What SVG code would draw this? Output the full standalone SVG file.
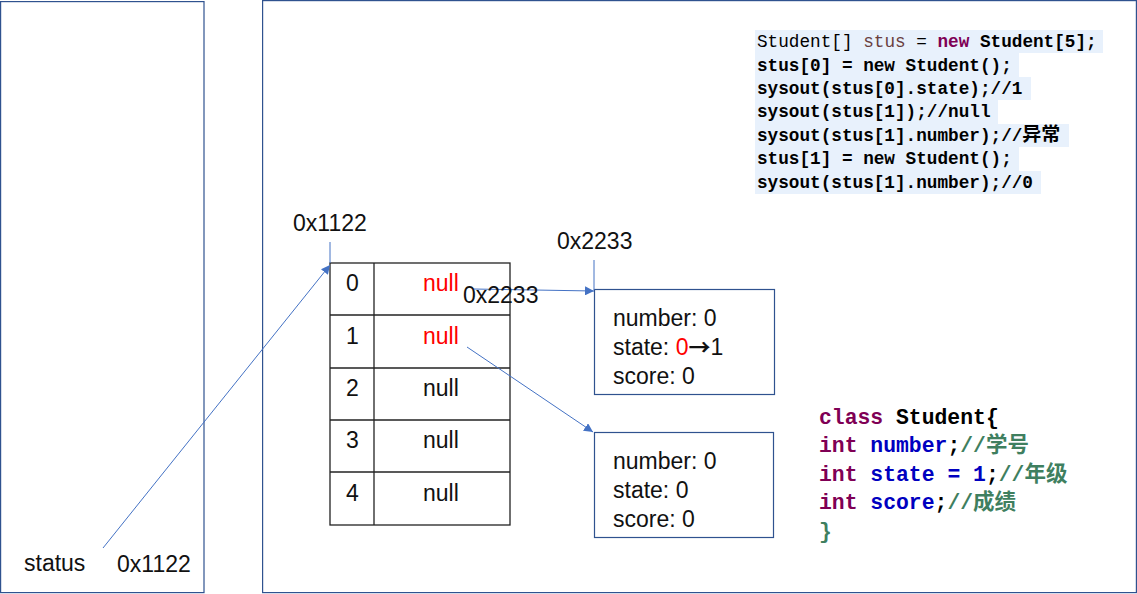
<svg xmlns="http://www.w3.org/2000/svg" width="1137" height="594" viewBox="0 0 1137 594">
<defs>
<style>
.frame{fill:#fff;stroke:#2F528F;stroke-width:1.2}
.cell{fill:none;stroke:#222;stroke-width:1.3}
.lbl{font-family:"Liberation Sans","Noto Sans",sans-serif;font-size:23px;fill:#111}
.red{fill:#FF0000}
.conn{stroke:#4472C4;stroke-width:1;fill:none}
.code{font-family:"Liberation Mono","DejaVu Sans Mono","Noto Sans CJK SC",monospace;font-size:17.7px;font-weight:bold;fill:#000}
.cls{font-family:"Liberation Mono","DejaVu Sans Mono","Noto Sans CJK SC",monospace;font-size:21.4px;font-weight:bold}
.kw{fill:#7F0055}
.fld{fill:#0000C0}
.cmt{fill:#3F7F5F}
.cjk{font-family:"Noto Sans CJK SC",sans-serif;font-size:21.5px}
.hl{fill:#E8F1FC}
.arr{font-family:"Noto Sans CJK SC",sans-serif;font-weight:bold;font-size:22px}
</style>
<marker id="ah" viewBox="0 0 10 10" refX="10" refY="5" markerWidth="9" markerHeight="9" markerUnits="userSpaceOnUse" orient="auto">
<path d="M0,0 L10,5 L0,10 z" fill="#4472C4"/>
</marker>
</defs>
<rect width="1137" height="594" fill="#fff"/>
<g id="stack">
<rect class="frame" x="0.6" y="1.6" width="203.4" height="591"/>
<text class="lbl" x="24" y="571">status</text>
<text class="lbl" x="117" y="572">0x1122</text>
</g>
<g id="heap">
<rect class="frame" x="262.6" y="0.6" width="873.8" height="592"/>
</g>
<g id="array">
<text class="lbl" x="293" y="231">0x1122</text>
<rect class="cell" x="330" y="263" width="180" height="262"/>
<line class="cell" x1="374" y1="263" x2="374" y2="525"/>
<line class="cell" x1="330" y1="315" x2="510" y2="315"/>
<line class="cell" x1="330" y1="368" x2="510" y2="368"/>
<line class="cell" x1="330" y1="420" x2="510" y2="420"/>
<line class="cell" x1="330" y1="472" x2="510" y2="472"/>
<text class="lbl" x="346" y="291">0</text>
<text class="lbl" x="346" y="344">1</text>
<text class="lbl" x="346" y="396">2</text>
<text class="lbl" x="346" y="448">3</text>
<text class="lbl" x="346" y="501">4</text>
<text class="lbl red" x="423" y="291">null</text>
<text class="lbl red" x="423" y="344">null</text>
<text class="lbl" x="423" y="396">null</text>
<text class="lbl" x="423" y="448">null</text>
<text class="lbl" x="423" y="501">null</text>
</g>
<g id="obj1">
<text class="lbl" x="557" y="249">0x2233</text>
<rect class="frame" x="594.5" y="289.5" width="180" height="105"/>
<text class="lbl" x="613" y="326">number: 0</text>
<text class="lbl" x="613" y="355">state: <tspan class="red">0</tspan><tspan class="arr">→</tspan>1</text>
<text class="lbl" x="613" y="384">score: 0</text>
</g>
<g id="obj2">
<rect class="frame" x="594.5" y="432.5" width="179" height="105"/>
<text class="lbl" x="613" y="469">number: 0</text>
<text class="lbl" x="613" y="498">state: 0</text>
<text class="lbl" x="613" y="527">score: 0</text>
</g>
<g id="connectors">
<line class="conn" x1="330" y1="242" x2="330" y2="263"/>
<line class="conn" x1="594" y1="260" x2="594" y2="290"/>
<line class="conn" x1="103" y1="548" x2="330" y2="265" marker-end="url(#ah)"/>
<line class="conn" x1="473" y1="289" x2="594" y2="291" marker-end="url(#ah)"/>
<line class="conn" x1="467" y1="347" x2="593" y2="432" marker-end="url(#ah)"/>
</g>
<g id="overlay-label">
<text class="lbl" x="463" y="303">0x2233</text>
</g>
<g id="code">
<rect class="hl" x="755" y="30" width="348" height="23"/>
<rect class="hl" x="755" y="53" width="264" height="24"/>
<rect class="hl" x="755" y="77" width="276" height="23"/>
<rect class="hl" x="755" y="100" width="243" height="24"/>
<rect class="hl" x="755" y="124" width="314" height="23"/>
<rect class="hl" x="755" y="147" width="264" height="24"/>
<rect class="hl" x="755" y="171" width="286" height="23"/>
<text class="code" x="757" y="47"><tspan font-weight="normal">Student[] </tspan><tspan font-weight="normal" fill="#6A3E3E">stus</tspan><tspan font-weight="normal"> = </tspan><tspan class="kw">new</tspan> Student[5];</text>
<text class="code" x="757" y="71">stus[0] = new Student();</text>
<text class="code" x="757" y="94">sysout(stus[0].state);//1</text>
<text class="code" x="757" y="117">sysout(stus[1]);//null</text>
<text class="code" x="757" y="141">sysout(stus[1].number);//<tspan font-size="19px">异常</tspan></text>
<text class="code" x="757" y="164">stus[1] = new Student();</text>
<text class="code" x="757" y="188">sysout(stus[1].number);//0</text>
</g>
<g id="class">
<text class="cls" x="819" y="424"><tspan class="kw">class</tspan> Student{</text>
<text class="cls" x="819" y="452"><tspan class="kw">int</tspan> <tspan class="fld">number</tspan>;<tspan class="cmt">//</tspan><tspan class="cmt cjk">学号</tspan></text>
<text class="cls" x="819" y="481"><tspan class="kw">int</tspan> <tspan class="fld">state = 1</tspan>;<tspan class="cmt">//</tspan><tspan class="cmt cjk">年级</tspan></text>
<text class="cls" x="819" y="509"><tspan class="kw">int</tspan> <tspan class="fld">score</tspan>;<tspan class="cmt">//</tspan><tspan class="cmt cjk">成绩</tspan></text>
<text class="cls cmt" x="819" y="538">}</text>
</g>
</svg>
